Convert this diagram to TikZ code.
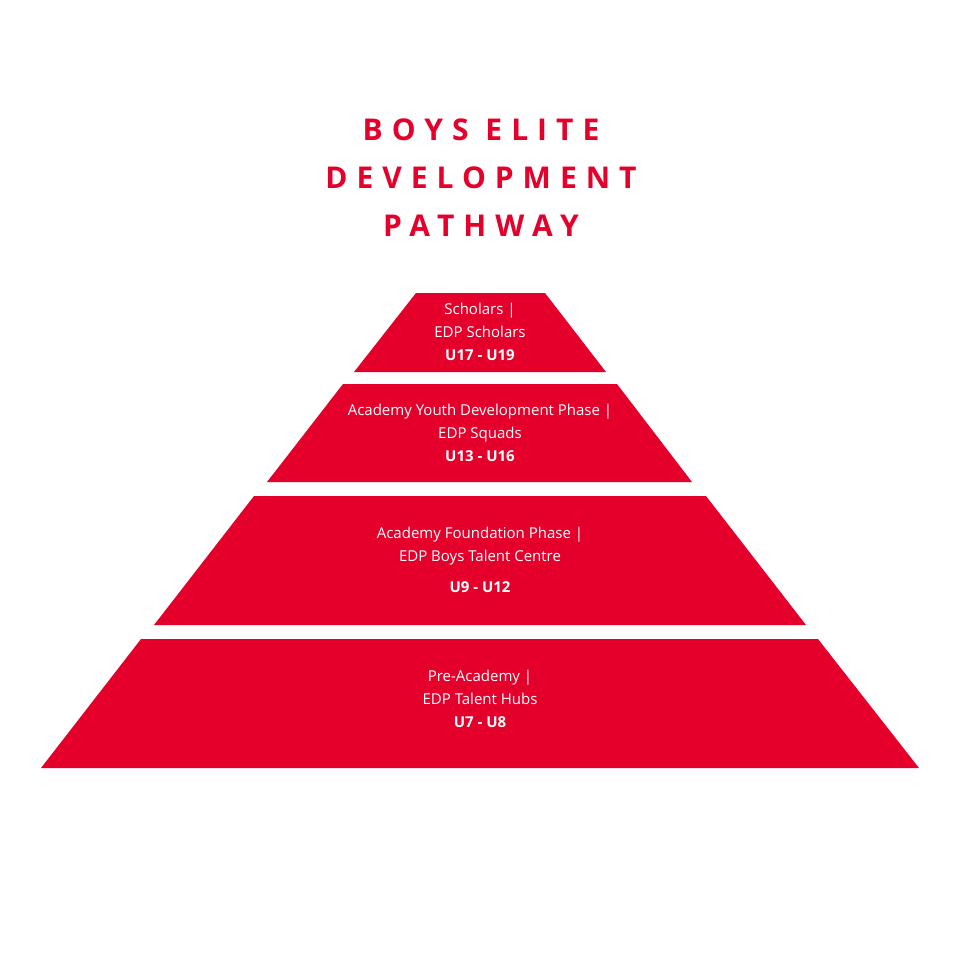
\documentclass[tikz,border=0pt]{standalone}
\usepackage{fontspec}
\setmainfont{Open Sans}
\newfontfamily\titlefont[LetterSpace=30]{Open Sans Bold}
\definecolor{edpred}{HTML}{E4002B}
\begin{document}
\begin{tikzpicture}[x=1pt,y=-1pt,
    tier/.style={fill=edpred,draw=none},
    tiertext/.style={text=white,align=center,font=\fontsize{15}{23}\selectfont},
    heading/.style={text=edpred,align=center,font=\titlefont\fontsize{30}{48}\selectfont}]
    \useasboundingbox (0,0) rectangle (960,960);
    \node[heading] (title) at (481,178) {BOYS ELITE\\DEVELOPMENT\\PATHWAY};
    \fill[tier] (416,293) -- (545,293) -- (606,372) -- (354,372) -- cycle;
    \fill[tier] (343,384) -- (617,384) -- (692,482) -- (267,482) -- cycle;
    \fill[tier] (254,496) -- (706,496) -- (806,625) -- (154,625) -- cycle;
    \fill[tier] (141,639) -- (818,639) -- (919,768) -- (41,768) -- cycle;
    \node[tiertext] (scholars) at (480,332) {Scholars |\\EDP Scholars\\\textbf{U17 - U19}};
    \node[tiertext] (youth) at (480,433) {Academy Youth Development Phase |\\EDP Squads\\\textbf{U13 - U16}};
    \node[tiertext] (foundation) at (480,546) {Academy Foundation Phase |\\EDP Boys Talent Centre};
    \node[tiertext] (foundationage) at (480,587) {\textbf{U9 - U12}};
    \node[tiertext] (preacademy) at (480,699) {Pre-Academy |\\EDP Talent Hubs\\\textbf{U7 - U8}};
\end{tikzpicture}
\end{document}
